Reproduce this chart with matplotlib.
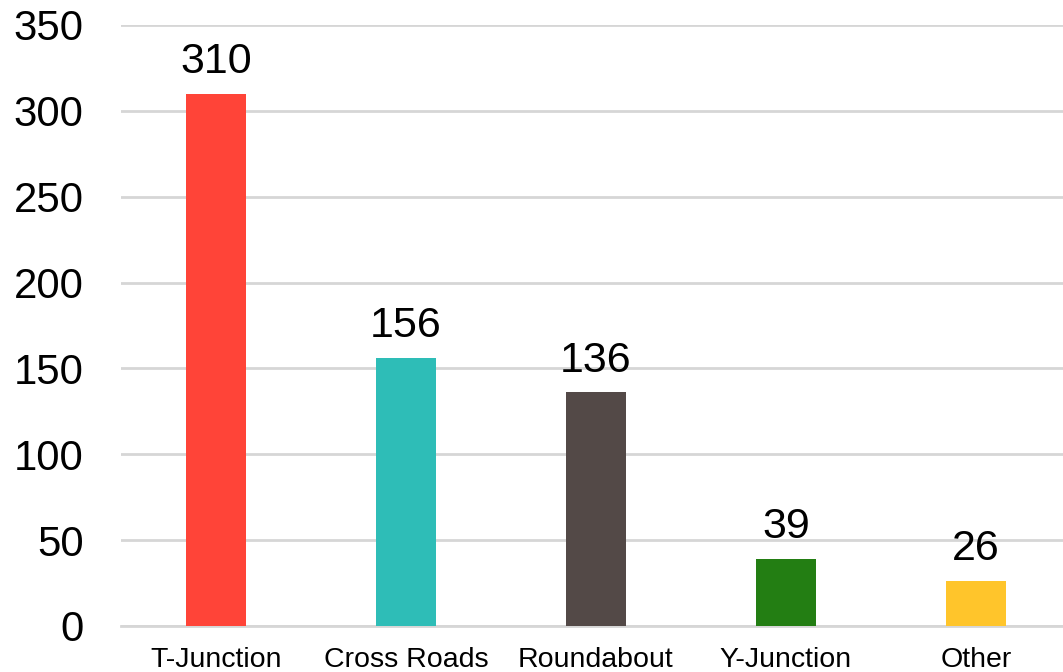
import matplotlib.pyplot as plt

# データ
categories = ['T-Junction', 'Cross Roads', 'Roundabout', 'Y-Junction', 'Other']
counts = [310, 156, 136, 39, 26]
colors = ['#FF4438', '#2EBDB7', '#534947', '#237E13', '#FFC52B']
y_ticks = [0, 50, 100, 150, 200, 250, 300, 350]

plt.rcParams['font.family'] = ['Liberation Sans', 'DejaVu Sans']

fig = plt.figure(figsize=(10.63, 6.72), dpi=100)
ax = fig.add_axes([0.1138, 0.0685, 0.8937, 0.8943])

x = range(len(categories))
ax.bar(x, counts, width=0.316, color=colors, zorder=3)

# 値ラベル
for xi, v in zip(x, counts):
    ax.annotate(str(v), (xi, v), xytext=(0, 15), textcoords='offset points',
                ha='center', va='baseline', fontsize=31, color='black')

ax.set_xlim(-0.5, len(categories) - 0.5)
ax.set_ylim(0, 350)
ax.set_yticks(y_ticks)
ax.set_xticks(list(x))
ax.set_xticklabels(categories, fontsize=20.5)
ax.tick_params(axis='y', labelsize=30.2, length=0, pad=27)
ax.tick_params(axis='x', length=0, pad=15)

ax.grid(axis='y', color='#D6D6D6', linewidth=2, zorder=0)
for side in ['top', 'right', 'left']:
    ax.spines[side].set_visible(False)
ax.spines['bottom'].set_color('#D6D6D6')
ax.spines['bottom'].set_linewidth(2)

fig.savefig('out.png', dpi=100)
